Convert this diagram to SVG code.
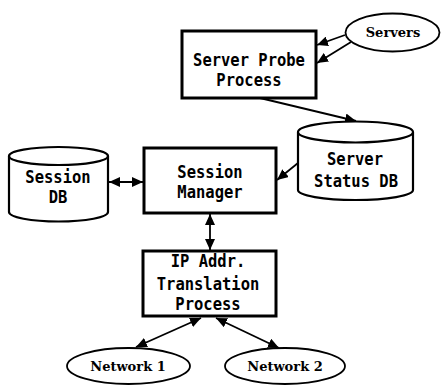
<svg xmlns="http://www.w3.org/2000/svg" width="442" height="385" viewBox="0 0 442 385">
<style>
.box{fill:#fff;stroke:#000;stroke-width:3}
.cyl{fill:#fff;stroke:#000;stroke-width:2.2}
.ell{fill:#fff;stroke:#000;stroke-width:1.8}
.bt{font-family:"DejaVu Sans Mono",monospace;font-weight:bold;font-size:15.5px;text-anchor:middle;fill:#000}
.et{font-family:"DejaVu Serif","Liberation Serif",serif;font-weight:bold;font-size:13px;text-anchor:middle;fill:#000}
.c{stroke:#000;stroke-width:1.8;fill:none}
</style>
<defs>
<marker id="ah" markerUnits="userSpaceOnUse" markerWidth="12" markerHeight="10" refX="11" refY="5" orient="auto-start-reverse">
<path d="M0,0 L11,5 L0,10 z" fill="#000"/>
</marker>
</defs>
<rect width="442" height="385" fill="#fff"/>
<g id="connectors">
<line class="c" x1="345" y1="35" x2="317" y2="45" marker-end="url(#ah)"/>
<line class="c" x1="351" y1="42" x2="317" y2="63" marker-end="url(#ah)"/>
<line class="c" x1="260" y1="98" x2="356" y2="121" marker-end="url(#ah)"/>
<line class="c" x1="298" y1="163" x2="277" y2="180" marker-end="url(#ah)"/>
<line class="c" x1="109" y1="182" x2="143" y2="182" marker-start="url(#ah)" marker-end="url(#ah)"/>
<line class="c" x1="210" y1="214" x2="210" y2="250" marker-start="url(#ah)" marker-end="url(#ah)"/>
<line class="c" x1="201" y1="318" x2="136" y2="347" marker-start="url(#ah)" marker-end="url(#ah)"/>
<line class="c" x1="216" y1="318" x2="279" y2="348" marker-start="url(#ah)" marker-end="url(#ah)"/>
</g>
<g id="servers">
<ellipse class="ell" cx="392.5" cy="32.5" rx="47" ry="19"/>
<text class="et" x="393" y="37">Servers</text>
</g>
<g id="server-probe">
<rect class="box" x="182" y="31" width="134" height="67"/>
<text class="bt" transform="translate(249,66) scale(1,1.12)">Server Probe</text>
<text class="bt" transform="translate(249,86) scale(1,1.12)">Process</text>
</g>
<g id="server-status-db">
<path class="cyl" d="M298,132 V190 A57.5,10 0 0 0 413,190 V132"/>
<ellipse class="cyl" cx="355.5" cy="132" rx="57.5" ry="10.5"/>
<text class="bt" transform="translate(355,165) scale(1,1.12)">Server</text>
<text class="bt" transform="translate(356,187) scale(1,1.12)">Status DB</text>
</g>
<g id="session-db">
<path class="cyl" d="M9,156 V212 A49.5,9.5 0 0 0 108,212 V156"/>
<ellipse class="cyl" cx="58.5" cy="156" rx="49.5" ry="9"/>
<text class="bt" transform="translate(58,183) scale(1,1.12)">Session</text>
<text class="bt" transform="translate(58,203) scale(1,1.12)">DB</text>
</g>
<g id="session-manager">
<rect class="box" x="144" y="148" width="132" height="65"/>
<text class="bt" transform="translate(210,178) scale(1,1.12)">Session</text>
<text class="bt" transform="translate(210,198) scale(1,1.12)">Manager</text>
</g>
<g id="ip-translation">
<rect class="box" x="143" y="251" width="133" height="65"/>
<text class="bt" transform="translate(208,267) scale(1,1.12)">IP Addr.</text>
<text class="bt" transform="translate(208,290) scale(1,1.12)">Translation</text>
<text class="bt" transform="translate(208,310) scale(1,1.12)">Process</text>
</g>
<g id="network1">
<ellipse class="ell" cx="128.5" cy="366" rx="61.5" ry="18"/>
<text class="et" x="128" y="371">Network 1</text>
</g>
<g id="network2">
<ellipse class="ell" cx="285" cy="366" rx="60" ry="18"/>
<text class="et" x="285" y="371">Network 2</text>
</g>
</svg>
